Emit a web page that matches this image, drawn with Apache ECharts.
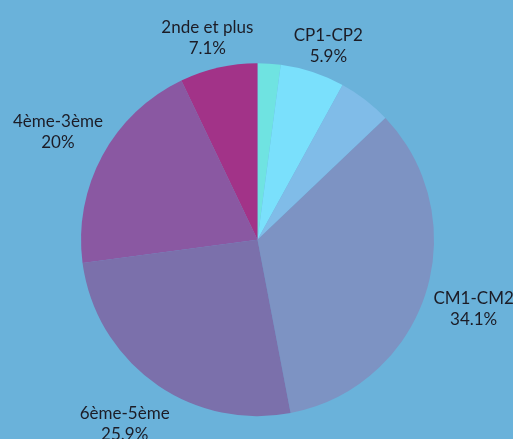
<!DOCTYPE html>
<html>
<head>
<meta charset="utf-8">
<script src="https://cdn.jsdelivr.net/npm/echarts@6/dist/echarts.min.js"></script>
<style>
  html, body { margin: 0; padding: 0; background: #6ab2da; }
  #main { width: 513px; height: 439px; }
</style>
</head>
<body>
<div id="main"></div>
<script>
// slices clockwise from 12 o'clock; the two unnamed ones carry no label
const names = ['', 'CP1-CP2', '', 'CM1-CM2', '6ème-5ème', '4ème-3ème', '2nde et plus']
const values = [2.1, 5.9, 4.9, 34.1, 25.9, 20, 7.1]
const colors = ['#6fe3e1', '#7ae0fc', '#80bce8', '#7d93c3', '#7b70ab', '#8a58a2', '#a23388']

const center = ['50.2%', '54.6%']
const font = 'Lato, "Open Sans", sans-serif'

const sliceData = names.map(function (n, i) {
    return { name: n, value: values[i], itemStyle: { color: colors[i] } }
})
// same values on a transparent ring, only used to place the labels
const labelData = names.map(function (n, i) {
    const lbl = { show: n !== '' }
    // labels above the pie sit closer to it: an empty first line pushes them down
    if (n === '2nde et plus') lbl.formatter = '{gapA|}\n{b}\n{d}%'
    if (n === 'CP1-CP2') lbl.formatter = '{gapB|}\n{b}\n{d}%'
    return { name: n, value: values[i], label: lbl }
})

const myChart = echarts.init(document.getElementById('main'))
myChart.setOption({
    backgroundColor: '#6ab2da',
    animation: false,
    series: [
        {
            type: 'pie',
            center: center,
            radius: 176.5,
            startAngle: 90,
            clockwise: true,
            label: { show: false },
            labelLine: { show: false },
            itemStyle: { borderWidth: 0 },
            silent: true,
            data: sliceData
        },
        {
            type: 'pie',
            center: center,
            radius: [212, 236],
            startAngle: 90,
            clockwise: true,
            silent: true,
            itemStyle: { color: 'transparent' },
            label: {
                position: 'inside',
                formatter: '{b}\n{d}%',
                color: '#1c1c26',
                fontFamily: font,
                fontSize: 17,
                lineHeight: 21,
                align: 'center',
                rich: {
                    gapA: { lineHeight: 40, height: 40 },
                    gapB: { lineHeight: 44, height: 44 }
                }
            },
            labelLine: { show: false },
            data: labelData
        }
    ]
})
</script>
</body>
</html>
